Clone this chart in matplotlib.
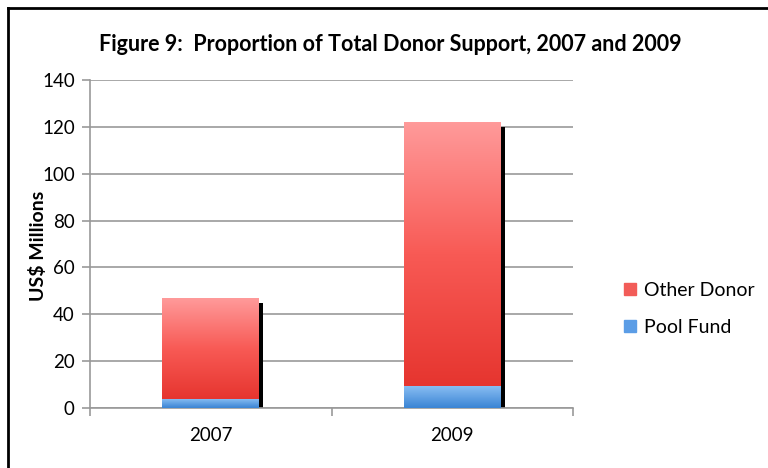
import matplotlib.pyplot as plt
import numpy as np
from matplotlib.colors import LinearSegmentedColormap
from matplotlib.patches import Patch

years = ["2007", "2009"]
pool_fund = [4, 9.5]
other_donor = [43, 112.5]
y_ticks = [0, 20, 40, 60, 80, 100, 120, 140]

plt.rcParams["font.family"] = ["Lato", "DejaVu Sans"]

red_cmap = LinearSegmentedColormap.from_list("red", ["#e6352f", "#f85a55", "#ff9a9a"])
blue_cmap = LinearSegmentedColormap.from_list("blue", ["#3a84d4", "#8cc0f4"])

fig = plt.figure(figsize=(7.68, 4.68), dpi=100)
ax = fig.add_axes([0.1172, 0.1282, 0.6289, 0.7009])

grad = np.linspace(0, 1, 256).reshape(-1, 1)
width = 0.4
x = np.arange(len(years))

for i in x:
    x0, x1 = i - width / 2, i + width / 2
    total = pool_fund[i] + other_donor[i]
    # drop shadow on the right side
    ax.add_patch(plt.Rectangle((x1, 0), 0.017, total - 2, color="black",
                               zorder=2, lw=0))
    ax.imshow(grad, extent=[x0, x1, 0, pool_fund[i]], origin="lower",
              cmap=blue_cmap, aspect="auto", zorder=3)
    ax.imshow(grad, extent=[x0, x1, pool_fund[i], total], origin="lower",
              cmap=red_cmap, aspect="auto", zorder=3)

ax.set_xlim(-0.5, 1.5)
ax.set_ylim(0, 140)
ax.set_yticks(y_ticks)
ax.set_xticks(x)
ax.set_xticklabels(years)
ax.set_xticks([-0.5, 0.5, 1.5], minor=True)
ax.tick_params(axis="x", which="major", length=0, labelsize=13.5, pad=14)
ax.tick_params(axis="x", which="minor", length=6, color="#999999", width=1.2)
ax.tick_params(axis="y", length=6, color="#999999", width=1.2, labelsize=13.5,
               pad=5)
ax.grid(axis="y", color="#999999", lw=1.2, zorder=1)
ax.set_axisbelow(True)
for side in ["top", "right"]:
    ax.spines[side].set_visible(False)
for side in ["left", "bottom"]:
    ax.spines[side].set_color("#999999")
    ax.spines[side].set_linewidth(1.2)

fig.text(0.049, 0.475, "US$ Millions", rotation=90, fontsize=14,
         fontweight="bold", ha="center", va="center")
fig.text(0.508, 0.904, "Figure 9:  Proportion of Total Donor Support, 2007 and 2009",
         fontsize=15.5, fontweight="bold", ha="center", va="center")

handles = [Patch(color="#f25c58", label="Other Donor"),
           Patch(color="#5b9de6", label="Pool Fund")]
fig.legend(handles=handles, loc="center left", bbox_to_anchor=(0.79, 0.34),
           frameon=False, fontsize=14, handlelength=0.6, handleheight=0.6,
           handletextpad=0.4, labelspacing=1.05)

# outer border (left and top edges)
fig.add_artist(plt.Line2D([0.011, 0.011], [0, 0.983], color="black", lw=2,
                          transform=fig.transFigure))
fig.add_artist(plt.Line2D([0.011, 1], [0.983, 0.983], color="black", lw=2,
                          transform=fig.transFigure))

fig.savefig("out.png", dpi=100)
